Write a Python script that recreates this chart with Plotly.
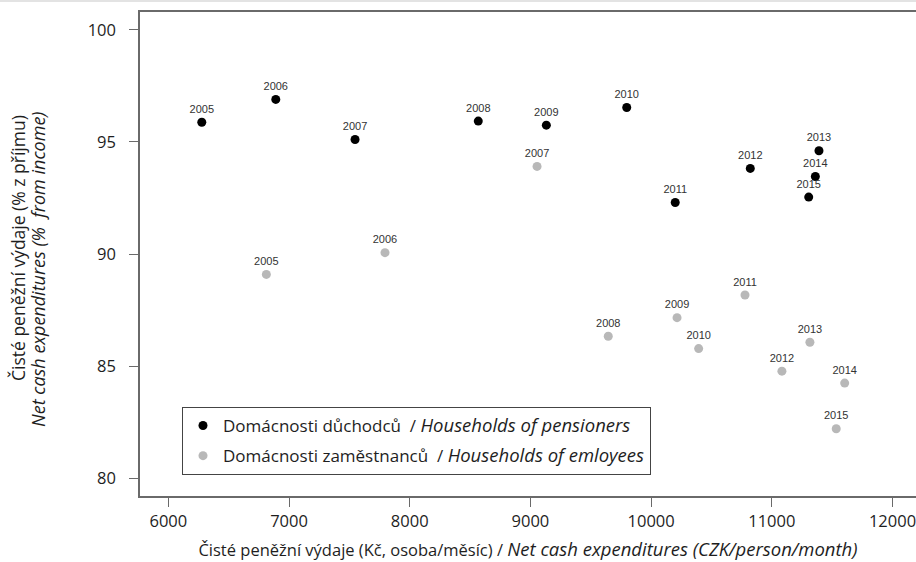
import plotly.graph_objects as go

years = ["2005", "2006", "2007", "2008", "2009", "2010", "2011", "2012", "2013", "2014", "2015"]

pens_x = [6277, 6890, 7547, 8568, 9132, 9798, 10200, 10822, 11391, 11361, 11306]
pens_y = [95.88, 96.90, 95.11, 95.93, 95.75, 96.54, 92.30, 93.82, 94.61, 93.46, 92.54]

empl_x = [6812, 7795, 9055, 9645, 10215, 10394, 10778, 11084, 11316, 11604, 11534]
empl_y = [89.09, 90.06, 93.91, 86.33, 87.16, 85.78, 88.17, 84.77, 86.06, 84.24, 82.20]

x_ticks = [6000, 7000, 8000, 9000, 10000, 11000, 12000]
y_ticks = [80, 85, 90, 95, 100]

IT = '<span style="font-size:{}px"><i>{}</i></span>'
name_pens = "Domácnosti důchodců\u00a0 / " + IT.format(18.5, "Households of pensioners")
name_empl = "Domácnosti zaměstnanců\u00a0 / " + IT.format(18.5, "Households of emloyees")
x_title = "Čisté peněžní výdaje (Kč, osoba/měsíc) / " + IT.format(18.5, "Net cash expenditures (CZK/person/month)")
y_title_1 = "Čisté peněžní výdaje (% z příjmu)"
y_title_2 = "<i>Net cash expenditures (%\u00a0 from income)</i>"

line_col = "#6a6a6a"
main_font = "Open Sans"
txt_col = "#1e1e1e"

L, T, W, H = 140, 12, 776, 484


def px_x(p):
    return (p - L) / W


def px_y(p):
    return (T + H - p) / H


fig = go.Figure()
fig.add_trace(go.Scatter(
    x=pens_x, y=pens_y, mode="markers+text", text=years,
    textposition="top center",
    textfont=dict(family="Liberation Sans, Arial", size=11, color="#333333"),
    marker=dict(color="#000000", size=9),
    name=name_pens, legendgroup="a",
))
fig.add_trace(go.Scatter(
    x=empl_x, y=empl_y, mode="markers+text", text=years,
    textposition="top center",
    textfont=dict(family="Liberation Sans, Arial", size=11, color="#333333"),
    marker=dict(color="#b8b8b8", size=9),
    name=name_empl, legendgroup="b",
))

fig.update_layout(
    width=916, height=562,
    margin=dict(l=L, r=0, t=T, b=562 - T - H),
    paper_bgcolor="white", plot_bgcolor="white",
    font=dict(family=main_font, size=17, color=txt_col),
    showlegend=True,
    legend=dict(
        x=px_x(182), y=px_y(407), xanchor="left", yanchor="top",
        bordercolor="#444444", borderwidth=1, bgcolor="white",
        font=dict(family=main_font, size=17, color=txt_col),
        tracegroupgap=5, itemwidth=30,
    ),
    xaxis=dict(
        range=[5765, 12195], tickvals=x_ticks, ticktext=[str(v) for v in x_ticks],
        showgrid=False, zeroline=False, showline=True, linecolor=line_col, linewidth=1.5,
        mirror=True, ticks="outside", ticklen=9, tickwidth=1.3, tickcolor=line_col,
        ticklabeloverflow="allow",
        tickfont=dict(family=main_font, size=16.5, color=txt_col),
        title=dict(text=x_title, font=dict(family=main_font, size=16.5, color=txt_col), standoff=14),
    ),
    yaxis=dict(
        range=[79.2, 100.8], tickvals=y_ticks, ticktext=[str(v) for v in y_ticks],
        showgrid=False, zeroline=False, showline=True, linecolor=line_col, linewidth=1.5,
        mirror=False, ticks="outside", ticklen=9, tickwidth=1.3, tickcolor=line_col,
        ticklabelstandoff=10,
        tickfont=dict(family=main_font, size=16.5, color=txt_col),
    ),
    annotations=[
        dict(text=y_title_1, textangle=-90, xref="paper", yref="paper",
             x=px_x(18), y=px_y(248), xanchor="center", yanchor="middle", showarrow=False,
             font=dict(family=main_font, size=17.5, color=txt_col)),
        dict(text=y_title_2, textangle=-90, xref="paper", yref="paper",
             x=px_x(38), y=px_y(270), xanchor="center", yanchor="middle", showarrow=False,
             font=dict(family=main_font, size=18, color=txt_col)),
    ],
    shapes=[dict(type="rect", xref="paper", yref="paper",
                 x0=-L / W, x1=1.0, y0=1 + (T - 2) / H, y1=1 + T / H,
                 fillcolor="#e3e3e3", line=dict(width=0), layer="above")],
)

fig.write_html("out.html")
